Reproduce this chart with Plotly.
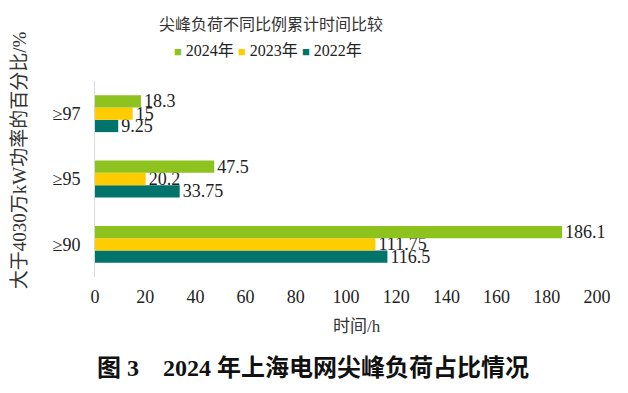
import plotly.graph_objects as go

categories = ["≥90", "≥95", "≥97"]
v2024 = [186.1, 47.5, 18.3]
v2023 = [111.75, 20.2, 15]
v2022 = [116.5, 33.75, 9.25]
x_ticks = list(range(0, 201, 20))
series = [("2022年", v2022, "#00736A"),
          ("2023年", v2023, "#FFCC00"),
          ("2024年", v2024, "#8DC21F")]

FONT = "Liberation Serif, Noto Sans CJK SC"

fig = go.Figure()
for name, vals, color in series:
    fig.add_trace(go.Bar(
        y=categories, x=vals, name=name, orientation="h",
        marker=dict(color=color, line=dict(width=0)),
        text=[f"{v:g}" for v in vals], textposition="outside",
        constraintext="none",
        textfont=dict(family=FONT, size=18, color="#222"), cliponaxis=False,
    ))

fig.update_layout(
    width=628, height=393,
    margin=dict(l=87, r=39, t=73, b=124),
    paper_bgcolor="white", plot_bgcolor="white",
    font=dict(family=FONT, size=17, color="#222"),
    barmode="group", bargap=0.435, bargroupgap=0.0,
    title=dict(text="尖峰负荷不同比例累计时间比较", x=0.419, xanchor="center",
               y=0.957, yanchor="middle", font=dict(family=FONT, size=16, color="#333")),
    showlegend=False,
)
fig.update_xaxes(range=[0, 200], tickvals=x_ticks, showgrid=False, zeroline=False,
                 showline=False, tickfont=dict(family=FONT, size=18, color="#222"),
                 automargin=False, ticklabelstandoff=7)
fig.update_yaxes(showgrid=False, showline=True, linecolor="#D9D9D9", linewidth=1,
                 tickfont=dict(family=FONT, size=18, color="#222"), ticks="",
                 ticklabelstandoff=10, automargin=False)

# legend (top, compact)
legend_pos = [0.153, 0.281, 0.408]
for (name, _, color), xp in zip(reversed(series), legend_pos):
    fig.add_annotation(text=f'<span style="color:{color};font-size:13px">■</span> {name}',
                       xref="paper", yref="paper", x=xp, y=1.155, xanchor="left",
                       yanchor="middle", showarrow=False,
                       font=dict(family=FONT, size=16, color="#222"))

# axis titles
fig.add_annotation(text="时间/h", xref="paper", yref="paper", x=0.522, y=-0.255,
                   xanchor="center", yanchor="middle", showarrow=False,
                   font=dict(family=FONT, size=17, color="#333"))
fig.add_annotation(text="大于4030万kW功率的百分比/%", xref="paper", yref="paper",
                   x=-0.149, y=0.597, xanchor="center", yanchor="middle",
                   textangle=-90, showarrow=False,
                   font=dict(family=FONT, size=19, color="#333"))

fig.add_annotation(text="<b>图 3    2024 年上海电网尖峰负荷占比情况</b>",
                   xref="paper", yref="paper", x=0.434, y=-0.464, xanchor="center",
                   yanchor="middle", showarrow=False,
                   font=dict(family=FONT, size=24, color="#111"))

fig.write_html("out.html")
